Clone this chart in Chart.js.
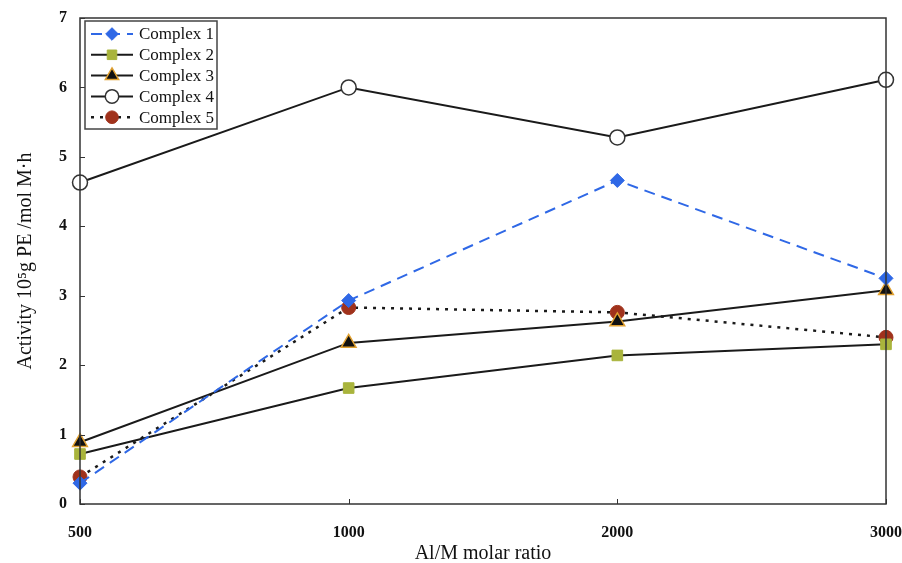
<!DOCTYPE html>
<html>
<head>
<meta charset="utf-8">
<script src="https://cdn.jsdelivr.net/npm/chart.js@4/dist/chart.umd.min.js"></script>
<style>
  html, body { margin: 0; padding: 0; background: #ffffff; }
  #wrap { width: 902px; height: 563px; position: relative; }
</style>
</head>
<body>
<div id="wrap"><canvas id="c" width="902" height="563"></canvas></div>
<script>
const categories = ['500', '1000', '2000', '3000'];
const complex1 = [0.30, 2.93, 4.66, 3.25];
const complex2 = [0.72, 1.67, 2.14, 2.30];
const complex3 = [0.89, 2.32, 2.63, 3.08];
const complex4 = [4.63, 6.00, 5.28, 6.11];
const complex5 = [0.39, 2.83, 2.76, 2.40];
const yTicks = [0, 1, 2, 3, 4, 5, 6, 7];
const seriesNames = ['Complex 1', 'Complex 2', 'Complex 3', 'Complex 4', 'Complex 5'];

const serif = '"Liberation Serif", "DejaVu Serif", serif';

const datasets = [
  { label: seriesNames[0], data: complex1, borderColor: '#2f68e6', borderDash: [11, 7], borderWidth: 2,
    pointStyle: 'rectRot', pointRadius: 7, pointBackgroundColor: '#2f68e6', pointBorderColor: '#2f68e6', pointBorderWidth: 1 },
  { label: seriesNames[1], data: complex2, borderColor: '#1a1a1a', borderWidth: 2,
    pointStyle: 'rect', pointRadius: 7.5, pointBackgroundColor: '#a9b43c', pointBorderColor: '#a9b43c', pointBorderWidth: 1 },
  { label: seriesNames[2], data: complex3, borderColor: '#1a1a1a', borderWidth: 2,
    pointStyle: 'triangle', pointRadius: 8.5, pointBackgroundColor: '#111111', pointBorderColor: '#e0a030', pointBorderWidth: 1.5 },
  { label: seriesNames[3], data: complex4, borderColor: '#1a1a1a', borderWidth: 2,
    pointStyle: 'circle', pointRadius: 7.5, pointBackgroundColor: '#ffffff', pointBorderColor: '#333333', pointBorderWidth: 1.5 },
  { label: seriesNames[4], data: complex5, borderColor: '#1a1a1a', borderDash: [3, 6], borderWidth: 2.5,
    pointStyle: 'circle', pointRadius: 7, pointBackgroundColor: '#a0321c', pointBorderColor: '#a0321c', pointBorderWidth: 1 }
];
datasets.forEach(d => { d.fill = false; d.tension = 0; });

const framePlugin = {
  id: 'frame',
  afterDatasetsDraw(chart) {
    const { ctx, chartArea: a, scales } = chart;
    ctx.save();
    ctx.strokeStyle = '#333333';
    ctx.lineWidth = 1.5;
    ctx.strokeRect(a.left, a.top, a.right - a.left, a.bottom - a.top);
    ctx.lineWidth = 1;
    yTicks.forEach(v => {
      const y = Math.round(scales.y.getPixelForValue(v)) + 0.5;
      ctx.beginPath(); ctx.moveTo(a.left, y); ctx.lineTo(a.left + 5, y); ctx.stroke();
    });
    categories.forEach((c, i) => {
      const x = Math.round(scales.x.getPixelForValue(i)) + 0.5;
      ctx.beginPath(); ctx.moveTo(x, a.bottom); ctx.lineTo(x, a.bottom - 5); ctx.stroke();
    });
    // legend
    const lx = 85, ly = 21, lw = 132, lh = 108;
    ctx.fillStyle = '#ffffff';
    ctx.fillRect(lx, ly, lw, lh);
    ctx.strokeStyle = '#444444';
    ctx.lineWidth = 1.5;
    ctx.strokeRect(lx, ly, lw, lh);
    datasets.forEach((d, i) => {
      const cy = 34 + i * 20.8;
      ctx.save();
      ctx.strokeStyle = d.borderColor;
      ctx.lineWidth = d.borderWidth;
      ctx.setLineDash(d.borderDash || []);
      ctx.beginPath(); ctx.moveTo(91, cy); ctx.lineTo(133, cy); ctx.stroke();
      ctx.restore();
      ctx.save();
      ctx.fillStyle = d.pointBackgroundColor;
      ctx.strokeStyle = d.pointBorderColor;
      ctx.lineWidth = d.pointBorderWidth;
      Chart.helpers.drawPoint(ctx, { pointStyle: d.pointStyle, radius: d.pointRadius * 0.9, rotation: 0, borderWidth: d.pointBorderWidth }, 112, cy);
      ctx.restore();
      ctx.fillStyle = '#111111';
      ctx.font = '17px ' + serif;
      ctx.textBaseline = 'middle';
      ctx.textAlign = 'left';
      ctx.fillText(d.label, 139, cy + 1);
    });
    ctx.restore();
  }
};

new Chart(document.getElementById('c'), {
  type: 'line',
  data: { labels: categories, datasets },
  plugins: [framePlugin],
  options: {
    responsive: false,
    animation: false,
    devicePixelRatio: 1,
    layout: { padding: { left: 0, right: 16, top: 18, bottom: 0 } },
    plugins: { legend: { display: false }, tooltip: { enabled: false } },
    scales: {
      x: {
        type: 'category',
        offset: false,
        grid: { display: false, drawTicks: false },
        border: { display: false },
        ticks: { color: '#111', font: { family: serif, size: 16, weight: 'bold' }, padding: 19, maxRotation: 0, autoSkip: false },
        title: { display: true, text: 'Al/M molar ratio', color: '#111', font: { family: serif, size: 20 }, padding: { top: 5, bottom: -3 } },
        afterFit(s) { s.height = 59; s.paddingLeft = 0; s.paddingRight = 0; }
      },
      y: {
        min: 0, max: 7,
        grid: { display: false, drawTicks: false },
        border: { display: false },
        ticks: { stepSize: 1, color: '#111', font: { family: serif, size: 16, weight: 'bold' }, padding: 13 },
        title: { display: true, text: 'Activity 10\u2075g PE /mol M\u00B7h', color: '#111', font: { family: serif, size: 20 }, padding: { top: 14, bottom: 0 } },
        afterFit(s) { s.width = 80; s.paddingTop = 0; s.paddingBottom = 0; }
      }
    }
  }
});
</script>
</body>
</html>
